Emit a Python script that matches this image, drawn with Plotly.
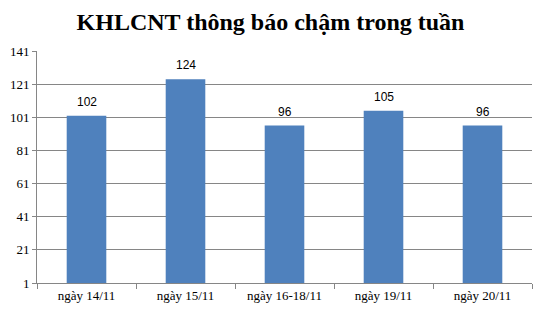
import plotly.graph_objects as go

categories = ["ngày 14/11", "ngày 15/11", "ngày 16-18/11", "ngày 19/11", "ngày 20/11"]
values = [102, 124, 96, 105, 96]
y_ticks = [1, 21, 41, 61, 81, 101, 121, 141]

fig = go.Figure(go.Bar(
    x=categories, y=values, width=0.4,
    marker=dict(color="#4F81BD", line=dict(width=0)),
))

for c, v in zip(categories, values):
    fig.add_annotation(x=c, y=v, text=str(v), showarrow=False, yshift=14,
                       yanchor="middle",
                       font=dict(family="Liberation Sans, Arial", size=12, color="#000000"))

fig.update_layout(
    width=541, height=311,
    margin=dict(l=37, r=9, t=51, b=28),
    paper_bgcolor="white", plot_bgcolor="white",
    title=dict(text="<b>KHLCNT thông báo chậm trong tuần</b>", x=0.5, xanchor="center",
               y=0.93, yanchor="middle",
               font=dict(family="Liberation Serif, Times New Roman", size=24, color="#000000")),
    showlegend=False,
    bargap=0.6,
)
fig.update_xaxes(
    showline=True, linecolor="#868686", linewidth=1,
    ticks="outside", tickson="boundaries", ticklen=5, tickcolor="#868686",
    tickfont=dict(family="Liberation Serif, Times New Roman", size=13, color="#000000"),
    showgrid=False,
)
fig.update_yaxes(
    range=[1, 141], tickvals=y_ticks, ticktext=[str(t) for t in y_ticks],
    showline=True, linecolor="#868686", linewidth=1,
    ticks="outside", ticklen=4, tickcolor="#868686",
    showgrid=True, gridcolor="#868686", gridwidth=1,
    tickfont=dict(family="Liberation Serif, Times New Roman", size=13, color="#000000"),
    zeroline=False,
)

fig.write_html("out.html")
